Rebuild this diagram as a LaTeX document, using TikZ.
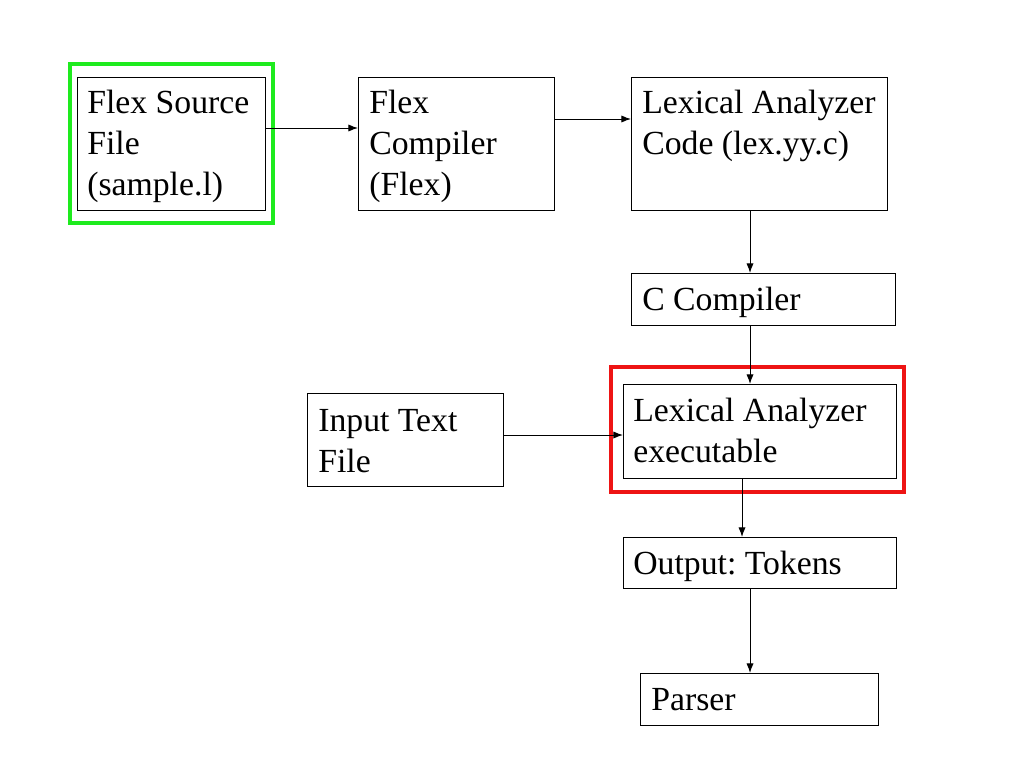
\documentclass[tikz,border=0pt]{standalone}
\usepackage{fontspec}
\setmainfont{Liberation Serif}
\frenchspacing
\usetikzlibrary{arrows.meta}
\definecolor{hlgreen}{RGB}{30,235,30}
\definecolor{hlred}{RGB}{238,20,20}
\begin{document}
\begin{tikzpicture}[x=0.25mm,y=-0.25mm,
  box/.style={draw=black,line width=0.25mm,inner sep=0pt,outer sep=0pt,anchor=north west},
  lbl/.style={inner sep=0pt,anchor=base west,align=left,font=\fontsize{24}{29}\selectfont},
  hl/.style={draw,line width=1.1mm,inner sep=0pt,outer sep=0pt,anchor=north west},
  arr/.style={draw=black,line width=0.25mm,-{Latex[length=2.4mm,width=1.8mm]}}]
\useasboundingbox[fill=white] (0,0) rectangle (1024,768);
% highlight frames
\node[hl,draw=hlgreen,minimum width=50.75mm,minimum height=39.75mm] (gfr) at (70,64) {};
\node[hl,draw=hlred,minimum width=73.25mm,minimum height=31.25mm] (rfr) at (611,367) {};
% boxes
\node[box,minimum width=47mm,minimum height=33.25mm] (src) at (77,77) {};
\node[box,minimum width=49mm,minimum height=33.25mm] (flex) at (358,77) {};
\node[box,minimum width=64mm,minimum height=33.25mm] (code) at (631,77) {};
\node[box,minimum width=66mm,minimum height=13mm] (cc) at (631,273) {};
\node[box,minimum width=49mm,minimum height=23.25mm] (inp) at (307,393) {};
\node[box,minimum width=68.25mm,minimum height=23.5mm] (exe) at (623,384) {};
\node[box,minimum width=68.25mm,minimum height=12.75mm] (out) at (623,537) {};
\node[box,minimum width=59.5mm,minimum height=13mm] (par) at (640,673) {};
% labels (anchor = baseline of the last line)
\node[lbl] (tsrc) at (87,195) {Flex Source\\File\\(sample.l)};
\node[lbl] (tflex) at (369,195) {Flex\\Compiler\\(Flex)};
\node[lbl] (tcode) at (642,154) {Lexical Analyzer\\Code (lex.yy.c)};
\node[lbl] (tcc) at (642,310) {C Compiler};
\node[lbl] (tinp) at (318,472) {Input Text\\File};
\node[lbl] (texe) at (633,462) {Lexical Analyzer\\executable};
\node[lbl] (tout) at (633,574) {Output: Tokens};
\node[lbl] (tpar) at (651,710) {Parser};
% connectors
\draw[arr] (src.east |- 0,128) -- (flex.west |- 0,128);
\draw[arr] (flex.east |- 0,119) -- (code.west |- 0,119);
\draw[arr] (code.south -| 750,0) -- (cc.north -| 750,0);
\draw[arr] (cc.south -| 750,0) -- (exe.north -| 750,0);
\draw[arr] (inp.east |- 0,435) -- (exe.west |- 0,435);
\draw[arr] (exe.south -| 742,0) -- (out.north -| 742,0);
\draw[arr] (out.south -| 750,0) -- (par.north -| 750,0);
\end{tikzpicture}
\end{document}
